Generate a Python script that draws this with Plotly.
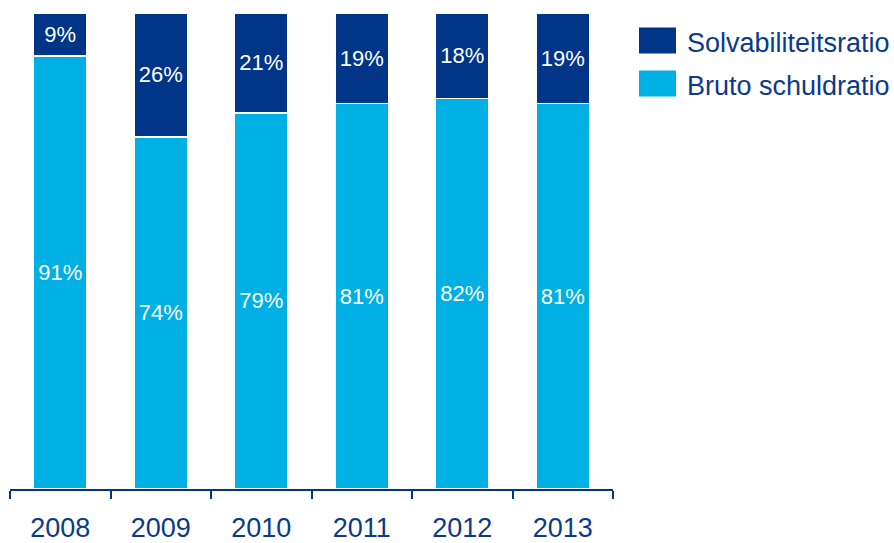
import plotly.graph_objects as go

years = ["2008", "2009", "2010", "2011", "2012", "2013"]
bruto_schuldratio = [91, 74, 79, 81, 82, 81]
solvabiliteitsratio = [9, 26, 21, 19, 18, 19]

navy = "#003587"
cyan = "#00B0E4"
text_navy = "#0B3A8A"
font_family = "Liberation Sans, Arial, sans-serif"

fig = go.Figure()
fig.add_trace(go.Bar(
    x=years, y=bruto_schuldratio, name="Bruto schuldratio",
    marker=dict(color=cyan, line=dict(color="white", width=1.5)),
    text=[f"{v}%" for v in bruto_schuldratio], textposition="inside",
    insidetextanchor="middle", textangle=0, constraintext="none",
    textfont=dict(color="white", size=22, family=font_family),
    showlegend=False,
))
fig.add_trace(go.Bar(
    x=years, y=solvabiliteitsratio, name="Solvabiliteitsratio",
    marker=dict(color=navy, line=dict(color="white", width=1.5)),
    text=[f"{v}%" for v in solvabiliteitsratio], textposition="inside",
    insidetextanchor="middle", textangle=0, constraintext="none",
    textfont=dict(color="white", size=22, family=font_family),
    showlegend=False,
))

# legend drawn as colour swatches with labels to the right of the plot
legend_items = [("Solvabiliteitsratio", navy), ("Bruto schuldratio", cyan)]
for i, (label, color) in enumerate(legend_items):
    y_top = 27 + i * 43
    fig.add_shape(type="rect", xref="paper", yref="paper",
                  x0=(639 - 10) / 603, x1=(676 - 10) / 603,
                  y0=(489 - (y_top + 26)) / 476.5, y1=(489 - y_top) / 476.5,
                  fillcolor=color, line=dict(width=0))
    fig.add_annotation(xref="paper", yref="paper",
                       x=(685 - 10) / 603, y=(489 - (y_top + 16)) / 476.5,
                       xanchor="left", yanchor="middle", showarrow=False,
                       text=label, font=dict(color=text_navy, size=27, family=font_family))

fig.update_layout(
    barmode="stack", bargap=0.47,
    width=894, height=543,
    margin=dict(l=10, r=281, t=12.5, b=54),
    plot_bgcolor="white", paper_bgcolor="white",
    font=dict(family=font_family, color=text_navy),
)
fig.update_xaxes(
    showline=True, linecolor=navy, linewidth=2,
    ticks="outside", tickson="boundaries", ticklen=8, tickwidth=2, tickcolor=navy,
    tickfont=dict(size=27, color=text_navy, family=font_family),
    ticklabelstandoff=14, showgrid=False, automargin=False,
)
fig.update_yaxes(range=[0, 100], visible=False, showgrid=False)

fig.write_html("out.html")
